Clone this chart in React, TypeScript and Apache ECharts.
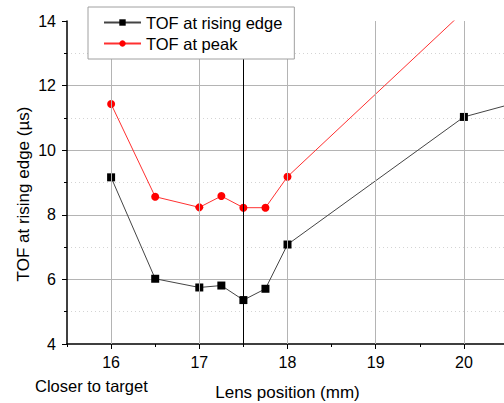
import React, { useEffect, useRef } from "react";
import * as echarts from "echarts";

const risingX = [16, 16.5, 17, 17.25, 17.5, 17.75, 18, 20, 20.5];
const risingTof = [9.16, 6.02, 5.75, 5.81, 5.36, 5.71, 7.08, 11.03, 11.4];
const peakX = [16, 16.5, 17, 17.25, 17.5, 17.75, 18, 20];
const peakTof = [11.43, 8.56, 8.23, 8.58, 8.22, 8.22, 9.18, 14.3];
const majorX = [16, 17, 18, 19, 20];
const markerX = 17.5;
const seriesNames = ["TOF at rising edge", "TOF at peak"];

const FONT = "'Liberation Sans', Arial, sans-serif";

export default function App() {
  const ref = useRef<HTMLDivElement>(null);
  useEffect(() => {
    if (!ref.current) return;
    const chart = echarts.init(ref.current, undefined, { renderer: "svg" });
    const gridMarks = majorX.map((v) => ({
      xAxis: v,
      lineStyle: { color: "#b4b4b4", width: 1, type: "solid" },
    }));
    chart.setOption({
      animation: false,
      backgroundColor: "#ffffff",
      textStyle: { fontFamily: FONT },
      grid: {
        left: 67,
        right: -4,
        top: 21,
        bottom: 59,
        containLabel: false,
        outerBoundsMode: "none",
      },
      legend: {
        data: seriesNames,
        orient: "vertical",
        left: 88,
        top: 7,
        padding: [7, 12, 7, 15],
        itemGap: 4,
        itemWidth: 37,
        itemHeight: 8,
        borderColor: "#a0a0a0",
        borderWidth: 1,
        backgroundColor: "#ffffff",
        textStyle: { fontSize: 16.5, color: "#000", fontFamily: FONT },
        z: 10,
      },
      xAxis: [
        {
          type: "value",
          min: 15.5,
          max: 20.5,
          interval: 0.5,
          name: "Lens position (mm)",
          nameLocation: "middle",
          nameGap: 40,
          nameTextStyle: { fontSize: 17, color: "#000", fontFamily: FONT },
          axisLine: { show: true, onZero: false, lineStyle: { color: "#000", width: 1.5 } },
          axisTick: { show: true, inside: false, length: 5, customValues: majorX, lineStyle: { color: "#000", width: 1 } },
          axisLabel: {
            customValues: majorX,
            fontSize: 16,
            color: "#000",
            margin: 10,
            fontFamily: FONT,
          },
          splitLine: {
            show: true,
            lineStyle: { color: "#d4d4d4", width: 1, type: [1, 3] },
          },
        },
        {
          type: "value",
          min: 15.5,
          max: 20.5,
          interval: 1,
          position: "bottom",
          axisLine: { show: false },
          axisTick: { show: true, length: 3, lineStyle: { color: "#000", width: 1 } },
          axisLabel: { show: false },
          splitLine: { show: false },
        },
      ],
      yAxis: {
        type: "value",
        min: 4,
        max: 14,
        interval: 2,
        axisLine: { show: true, onZero: false, lineStyle: { color: "#000", width: 1.5 } },
        axisTick: { show: true, inside: false, length: 5, lineStyle: { color: "#000", width: 1 } },
        minorTick: { show: true, splitNumber: 2, length: 3, lineStyle: { color: "#000", width: 1 } },
        axisLabel: { fontSize: 16, color: "#000", margin: 11, fontFamily: FONT },
        splitLine: {
          show: true,
          showMaxLine: false,
          showMinLine: false,
          lineStyle: { color: "#b4b4b4", width: 1 },
        },
        minorSplitLine: {
          show: true,
          lineStyle: { color: "#d4d4d4", width: 1, type: [1, 3] },
        },
      },
      graphic: [
        {
          type: "text",
          x: 23,
          y: 194,
          rotation: Math.PI / 2,
          style: {
            text: "TOF at rising edge (µs)",
            fontSize: 17,
            fontFamily: FONT,
            fill: "#000",
            align: "center",
            verticalAlign: "middle",
          },
        },
        {
          type: "text",
          x: 35,
          y: 386,
          style: {
            text: "Closer to target",
            fontSize: 16.5,
            fontFamily: FONT,
            fill: "#000",
            align: "left",
            verticalAlign: "middle",
          },
        },
      ],
      series: [
        {
          name: "gridlines",
          type: "line",
          data: [],
          z: 1,
          silent: true,
          markLine: {
            silent: true,
            symbol: ["none", "none"],
            label: { show: false },
            animation: false,
            data: [
              ...gridMarks,
              { xAxis: markerX, lineStyle: { color: "#000", width: 1, type: "solid" } },
            ],
          },
        },
        {
          name: seriesNames[0],
          type: "line",
          data: risingX.map((x, i) => [x, risingTof[i]]),
          symbol: "rect",
          symbolSize: 8,
          itemStyle: { color: "#000" },
          lineStyle: { color: "#444", width: 1 },
          clip: true,
          z: 3,
        },
        {
          name: seriesNames[1],
          type: "line",
          data: peakX.map((x, i) => [x, peakTof[i]]),
          symbol: "circle",
          symbolSize: 8,
          itemStyle: { color: "#ff0000" },
          lineStyle: { color: "#ff3030", width: 1 },
          clip: true,
          z: 3,
        },
      ],
    });
    return () => chart.dispose();
  }, []);
  return (
    <div
      ref={ref}
      style={{ position: "fixed", left: 0, top: 0, width: 504, height: 403 }}
    />
  );
}
